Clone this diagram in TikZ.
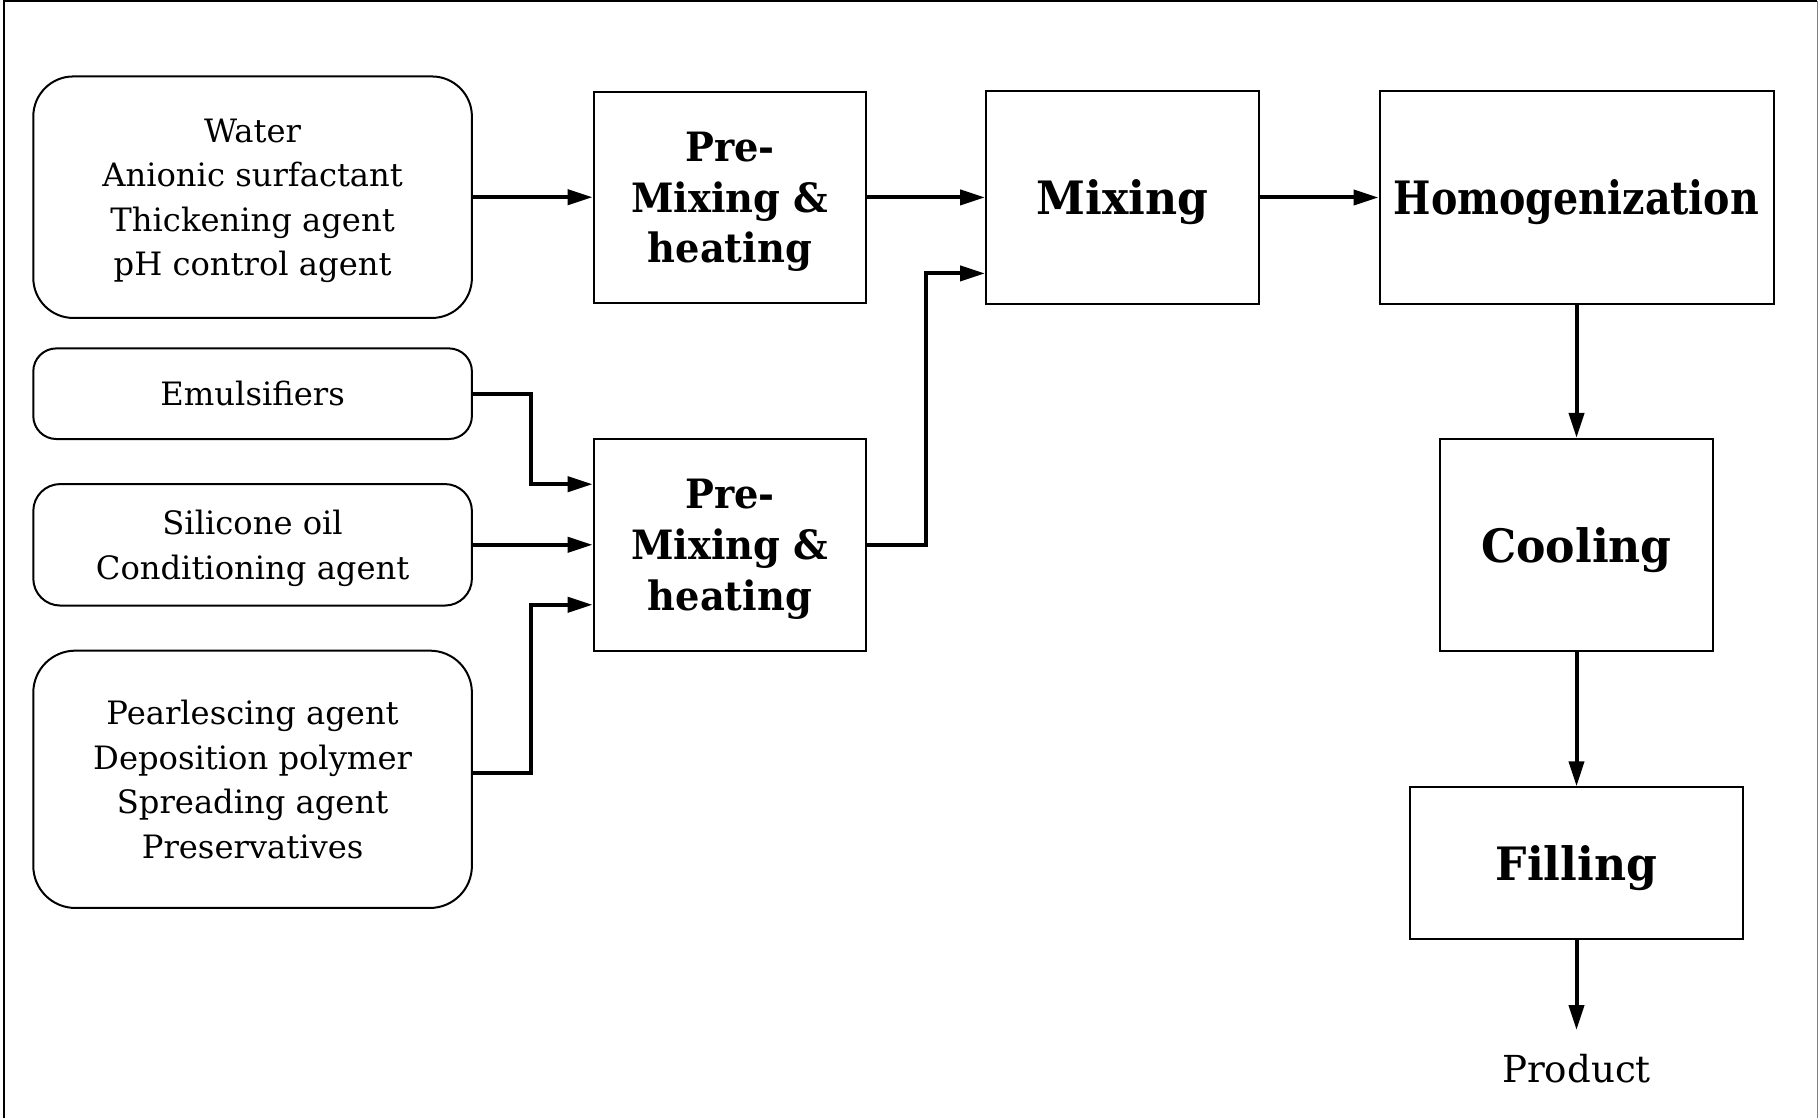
\documentclass[tikz,border=0pt]{standalone}
\usepackage{fontspec}
\setmainfont{DejaVu Serif}
\newfontfamily\stepfont{DejaVu Serif}[FakeStretch=0.96]
\newfontfamily\premixfont{DejaVu Serif}[FakeStretch=0.95]
\newfontfamily\homfont{DejaVu Serif}[FakeStretch=0.86]
\usetikzlibrary{arrows.meta,calc}

\begin{document}
\begin{tikzpicture}[x=0.5pt,y=-0.5pt,
  inbox/.style={draw, line width=1pt, align=center, minimum width=219.3pt,
    text depth=0pt, font=\fontsize{16.1}{22.25}\selectfont},
  stepbox/.style={draw, line width=1pt, align=center, inner xsep=3pt,
    text depth=0pt, font=\fontsize{23}{25.4}\stepfont\bfseries},
  premix/.style={stepbox, minimum width=136.3pt, minimum height=105.85pt,
    font=\fontsize{20.2}{25.4}\premixfont\bfseries},
  flow/.style={line width=2pt, -{Triangle[length=12.5pt,width=7.5pt]}}
]
\useasboundingbox (0,0) rectangle (1818,1118);

% outer frame
\draw[line width=1.25pt] (4,1118) -- (4,1) -- (1817,1);
\draw[gray, line width=0.5pt] (1817,1) -- (1817,1118);

% ingredient groups
\node[inbox, minimum height=120.75pt, rounded corners=20pt] (in1) at (252.6,197.2)
  {Water\\Anionic surfactant\\Thickening agent\\pH control agent};
\node[inbox, minimum height=45.3pt, rounded corners=11.5pt] (emul) at (252.6,393.7)
  {Emulsifiers};
\node[inbox, minimum height=60.75pt, rounded corners=13.5pt] (sil) at (252.6,544.8)
  {Silicone oil\\Conditioning agent};
\node[inbox, minimum height=128.65pt, rounded corners=21pt] (pearl) at (252.6,779.3)
  {Pearlescing agent\\Deposition polymer\\Spreading agent\\Preservatives};

% process steps
\node[premix] (pre1) at (729.9,197.4) {Pre-\\Mixing \&\\heating};
\node[premix] (pre2) at (729.9,544.9) {Pre-\\Mixing \&\\heating};
\node[stepbox, minimum width=136.5pt, minimum height=106pt] (mix) at (1122.5,197.5)
  {Mixing};
\node[stepbox, minimum width=197pt, minimum height=106pt,
  font=\fontsize{23}{25.4}\homfont\bfseries] (hom) at (1576.5,197.5)
  {Homogenization};
\node[stepbox, minimum width=136.4pt, minimum height=106pt] (cool) at (1576.5,544.9)
  {Cooling};
\node[stepbox, minimum width=166.5pt, minimum height=75.7pt] (fill) at (1576.5,863)
  {Filling};
\node[anchor=base, inner sep=12pt, font=\fontsize{18.6}{24}\selectfont] (prod) at (1576.5,1082.7)
  {Product};

% junction points of the elbow connectors
\coordinate (jmix) at (925.5,273.4);
\coordinate (jemul) at (531,484.2);
\coordinate (jpearl) at (531,604.8);

% connectors
\draw[flow] (in1.east) -- (in1.east -| pre1.west);
\draw[flow] (pre1.east) -- (pre1.east -| mix.west);
\draw[flow] (mix.east) -- (mix.east -| hom.west);
\draw[flow] (pre2.east) -| (jmix) -- (jmix -| mix.west);
\draw[flow] (emul.east) -| (jemul) -- (jemul -| pre2.west);
\draw[flow] (sil.east) -- (sil.east -| pre2.west);
\draw[flow] ($(pearl.east)+(0,-6.5)$) -| (jpearl) -- (jpearl -| pre2.west);
\draw[flow] (hom.south) -- (cool.north);
\draw[flow] (cool.south) -- (fill.north);
\draw[flow] (fill.south) -- (prod.north);
\end{tikzpicture}
\end{document}
